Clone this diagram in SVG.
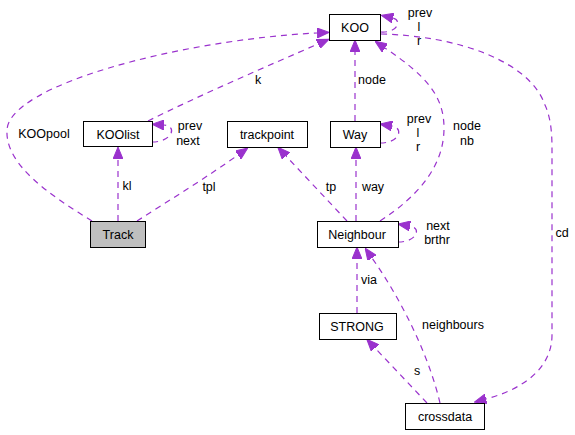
<svg xmlns="http://www.w3.org/2000/svg" width="575" height="435" viewBox="0 0 575 435">
<style>
text{font-family:"Liberation Sans",Arial,sans-serif;font-size:12.5px;fill:#000}
.node rect{fill:#fff;stroke:#000;stroke-width:1}
.node text{text-anchor:middle}
.hl rect{fill:#bfbfbf}
.edge path{fill:none;stroke:#9a32cd;stroke-width:1.2;stroke-dasharray:6,5;marker-end:url(#ah)}
.lbl{text-anchor:middle}
</style>
<defs>
<marker id="ah" viewBox="0 0 12 10" refX="0" refY="5" markerUnits="userSpaceOnUse" markerWidth="12" markerHeight="10" orient="auto">
<path d="M0,0 L12,5 L0,10 z" fill="#9a32cd" stroke="#9a32cd" stroke-width="1"/>
</marker>
</defs>
<rect width="575" height="435" fill="#fff"/>
<g id="edges" class="edge">
<path d="M92,221 C50,195 5,165 7,130 C9,85 180,40 317,33"/>
<path d="M148,121 C200,95 270,65 318,44"/>
<path d="M152,142 C172,142 178,126 164,125"/>
<path d="M118,221 L118,159"/>
<path d="M137,221 C170,200 210,175 238,155"/>
<path d="M347,221 L286,156"/>
<path d="M356,221 L356,159"/>
<path d="M380,221 C420,195 444,165 444,128 C444,95 425,75 385,48"/>
<path d="M355,121 L355,52"/>
<path d="M381,32 C398,33 402,20 393,18"/>
<path d="M381,34 C460,36 530,62 545,105 C552,120 552,140 552,150 L552,335 C552,370 520,390 486,399"/>
<path d="M398,242 C417,242 422,228 410,226"/>
<path d="M380,143 C400,143 404,128 392,126"/>
<path d="M357,313 L357,259"/>
<path d="M440,403 C430,360 405,305 372,258"/>
<path d="M427,403 L375,348"/>
</g>
<g id="labels">
<text class="lbl" x="44" y="137.5">KOOpool</text>
<text class="lbl" x="258" y="84">k</text>
<text class="lbl" x="190" y="130">prev</text>
<text class="lbl" x="188" y="145">next</text>
<text class="lbl" x="127" y="190">kl</text>
<text class="lbl" x="209" y="191">tpl</text>
<text class="lbl" x="331" y="191">tp</text>
<text class="lbl" x="373" y="191">way</text>
<text class="lbl" x="372" y="84">node</text>
<text class="lbl" x="467" y="130">node</text>
<text class="lbl" x="467" y="145">nb</text>
<text class="lbl" x="420" y="17">prev</text>
<text class="lbl" x="419" y="31">l</text>
<text class="lbl" x="419" y="45">r</text>
<text class="lbl" x="419" y="123">prev</text>
<text class="lbl" x="418" y="137">l</text>
<text class="lbl" x="418" y="151">r</text>
<text class="lbl" x="438" y="230">next</text>
<text class="lbl" x="437" y="244">brthr</text>
<text class="lbl" x="562" y="237">cd</text>
<text class="lbl" x="369" y="284">via</text>
<text class="lbl" x="453" y="329">neighbours</text>
<text class="lbl" x="417" y="375">s</text>
</g>
<g id="KOO" class="node"><rect x="329.5" y="14.5" width="51" height="26"/><text x="355" y="32">KOO</text></g>
<g id="KOOlist" class="node"><rect x="83.5" y="121.5" width="69" height="25"/><text x="118" y="138.5">KOOlist</text></g>
<g id="Track" class="node hl"><rect x="90.5" y="221.5" width="55" height="26"/><text x="118" y="239">Track</text></g>
<g id="trackpoint" class="node"><rect x="227.5" y="121.5" width="80" height="26"/><text x="267" y="139">trackpoint</text></g>
<g id="Way" class="node"><rect x="330.5" y="121.5" width="50" height="26"/><text x="355" y="139">Way</text></g>
<g id="Neighbour" class="node"><rect x="317.5" y="221.5" width="81" height="26"/><text x="357" y="239">Neighbour</text></g>
<g id="STRONG" class="node"><rect x="319.5" y="313.5" width="77" height="26"/><text x="357" y="331">STRONG</text></g>
<g id="crossdata" class="node"><rect x="405.5" y="403.5" width="79" height="26"/><text x="445" y="421">crossdata</text></g>
</svg>
